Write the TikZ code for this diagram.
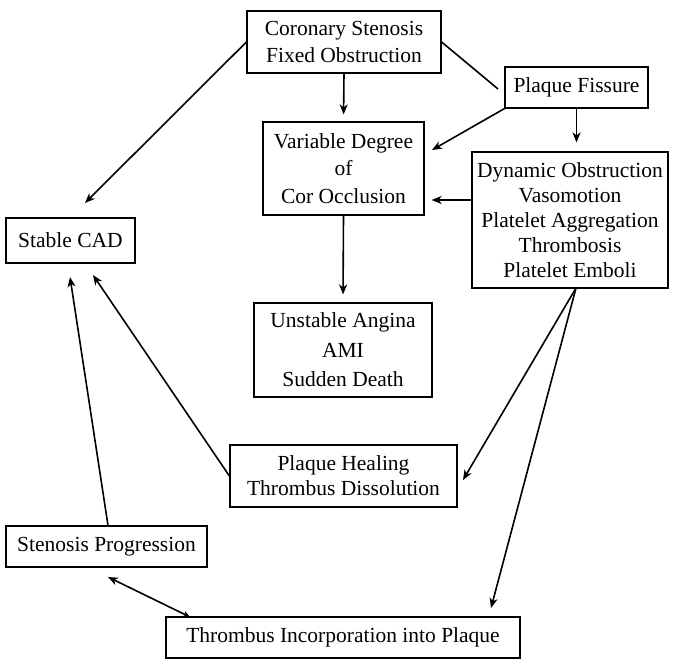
\documentclass[tikz,border=0pt]{standalone}
\usepackage{fontspec}
\setmainfont{Liberation Serif}
\usetikzlibrary{arrows.meta}
\begin{document}
\begin{tikzpicture}[x=1pt,y=-1pt,
  box/.style={draw, line width=1.2pt, inner sep=0pt, align=center, font=\fontsize{21.5}{25}\selectfont},
  arr/.style={line width=1.6pt, -{Stealth[length=10pt,width=8pt,inset=3pt]}},
  dbl/.style={line width=1.6pt, {Stealth[length=10pt,width=8pt,inset=3pt]}-{Stealth[length=7pt,width=6pt,inset=2pt]}},
  ln/.style={line width=1.6pt}]
\useasboundingbox (0,0) rectangle (674,659);
% boxes
\node[box, minimum width=194pt, minimum height=62pt, font=\fontsize{21.5}{27}\selectfont] (cor) at (344,42) {Coronary Stenosis\\Fixed Obstruction};
\node[box, minimum width=143pt, minimum height=41pt] (pf) at (576.5,87.5) {Plaque Fissure};
\node[box, minimum width=161pt, minimum height=93pt, font=\fontsize{21.5}{27.5}\selectfont] (var) at (343.5,168.5) {Variable Degree\\of\\Cor Occlusion};
\node[box, minimum width=196pt, minimum height=136pt] (dyn) at (570,220) {Dynamic Obstruction\\Vasomotion\\Platelet Aggregation\\Thrombosis\\Platelet Emboli};
\node[box, minimum width=129pt, minimum height=45pt] (cad) at (70.5,240.5) {Stable CAD};
\node[box, minimum width=178pt, minimum height=94pt, font=\fontsize{21.5}{29.5}\selectfont] (uns) at (343,350) {Unstable Angina\\AMI\\Sudden Death};
\node[box, minimum width=227pt, minimum height=62pt] (heal) at (343.5,476) {Plaque Healing\\Thrombus Dissolution};
\node[box, minimum width=201pt, minimum height=41pt] (sten) at (106.5,546.5) {Stenosis Progression};
\node[box, minimum width=354pt, minimum height=41pt] (thr) at (343,637.5) {Thrombus Incorporation into Plaque};
% free ends
\coordinate (c1) at (85,203);
\coordinate (pfe) at (498,89);
\coordinate (v1) at (432,150);
\coordinate (d1) at (472,200);
\coordinate (d0) at (576,288);
\coordinate (h1) at (463,480);
\coordinate (t1) at (491,608);
\coordinate (k1) at (93,275);
\coordinate (k2) at (70,277);
\coordinate (s1) at (108,577);
\coordinate (t2) at (190,617);
% connectors
\draw[arr] (cor.west) -- (c1);
\draw[arr, shorten >=7pt] (cor.south) -- (var.north);
\draw[ln] (cor.east) -- (pfe);
\draw[arr] (pf.south west) -- (v1);
\draw[arr, shorten >=9pt] (pf.south) -- (pf.south |- dyn.north);
\draw[arr, shorten >=7pt] (d1) -- (var.east |- d1);
\draw[arr, shorten >=8pt] (var.south) -- (uns.north);
\draw[arr] (d0) -- (h1);
\draw[arr] (d0) -- (t1);
\draw[arr] (heal.west) -- (k1);
\draw[arr] ([xshift=1.5pt]sten.north) -- (k2);
\draw[dbl] (s1) -- (t2);
\end{tikzpicture}
\end{document}
